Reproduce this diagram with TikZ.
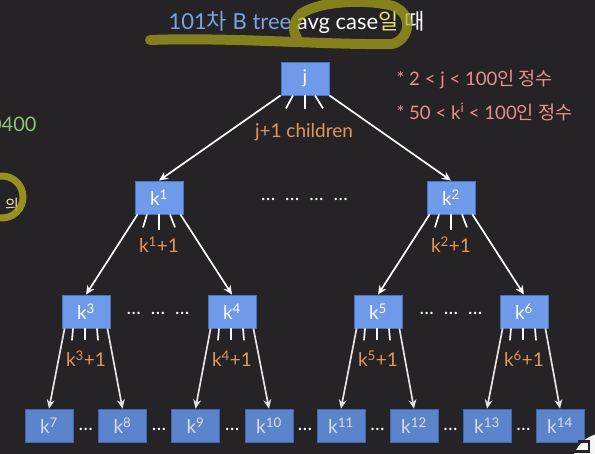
\documentclass[tikz,border=0pt]{standalone}
\usepackage{fontspec}
\setmainfont{Lato}
\newfontfamily\kr{Noto Sans CJK KR}
\usetikzlibrary{arrows.meta}

\definecolor{bg}{HTML}{262326}
\definecolor{boxfill}{HTML}{6F9AEA}
\definecolor{boxline}{HTML}{4A72C0}
\definecolor{leaffill}{HTML}{5C84CC}
\definecolor{leafline}{HTML}{4066AA}
\definecolor{leaftext}{HTML}{D9DCE3}
\definecolor{leafarrow}{HTML}{E2E2E2}
\definecolor{countcol}{HTML}{E4965A}
\definecolor{notecol}{HTML}{EB8E8E}
\definecolor{titleblue}{HTML}{7CA2E6}
\definecolor{marker}{HTML}{AAA51B}
\definecolor{numgreen}{HTML}{8CC47A}
\definecolor{hiyellow}{HTML}{E6E070}

\newcommand{\gap}{\hspace{10pt}}

\begin{document}
\begin{tikzpicture}[x=1pt,y=-1pt,
  keybox/.style={draw=boxline, fill=boxfill, line width=0.8pt,
    minimum width=48pt, minimum height=33pt, inner sep=0pt,
    text=white, font=\fontsize{19}{19}\selectfont},
  leafbox/.style={keybox, draw=leafline, fill=leaffill, text=leaftext},
  link/.style={draw=white, line width=1.7pt, -{Stealth[length=9pt,width=8pt]}},
  leaflink/.style={link, draw=leafarrow},
  stub/.style={draw=white, line width=1.7pt},
  count/.style={text=countcol, font=\fontsize{19}{19}\selectfont},
  dots/.style={text=white, anchor=base, font=\fontsize{19}{19}\selectfont},
  note/.style={text=notecol, anchor=west, font=\fontsize{18.6}{18.6}\selectfont},
]
% background and frame
\fill[bg] (0,0) rectangle (595,454);
\clip (0,0) rectangle (595,454);

% heading
\node[anchor=west, font=\fontsize{22}{22}\selectfont] (title) at (165,22)
  {{\color{titleblue}101{\kr 차} B tree} {\color{white}avg case}{\kr\color{hiyellow}일} {\kr\color{white}때}};
\draw[marker, opacity=0.72, line width=10pt, line cap=round, line join=round]
  (150,40) .. controls (230,37) and (322,45) .. (392,44)
  .. controls (410,40) and (414,14) .. (393,6)
  .. controls (364,-2) and (316,2) .. (301,14)
  .. controls (293,22) and (292,30) .. (297,38);

% fragments along the left edge
\node[anchor=east, text=numgreen, font=\fontsize{20}{20}\selectfont] (num) at (40,124) {0400};
\node[text=hiyellow!60!white, font=\kr\fontsize{15}{15}\selectfont] (eui) at (12,205) {의};
\draw[marker, opacity=0.85, line width=7pt] (2,197) circle (21);

% constraints
\node[note] (n1) at (393,80) {* 2 < j < 100{\kr 인 정수}};
\node[note] (n2) at (393,112) {* 50 < k\textsuperscript{i} < 100{\kr 인 정수}};

% keys
\node[keybox] (j)  at (305,78.5)  {j};
\node[keybox] (k1) at (159,197.5) {k\textsuperscript{1}};
\node[keybox] (k2) at (451,197.5) {k\textsuperscript{2}};
\node[keybox] (k3) at (86,311.5)  {k\textsuperscript{3}};
\node[keybox] (k4) at (232,311.5) {k\textsuperscript{4}};
\node[keybox] (k5) at (378,311.5) {k\textsuperscript{5}};
\node[keybox] (k6) at (524,311.5) {k\textsuperscript{6}};
\node[leafbox] (k7)  at (49,425.5)  {k\textsuperscript{7}};
\node[leafbox] (k8)  at (122.5,425.5) {k\textsuperscript{8}};
\node[leafbox] (k9)  at (195.5,425.5) {k\textsuperscript{9}};
\node[leafbox] (k10) at (269,425.5) {k\textsuperscript{10}};
\node[leafbox] (k11) at (341,425.5) {k\textsuperscript{11}};
\node[leafbox] (k12) at (414,425.5) {k\textsuperscript{12}};
\node[leafbox] (k13) at (487,425.5) {k\textsuperscript{13}};
\node[leafbox] (k14) at (560,425.5) {k\textsuperscript{14}};

% root fan-out
\draw[link] (j.south west) -- (k1.north);
\draw[link] (j.south east) -- (k2.north);
\draw[stub] ([xshift=-12pt]j.south) -- ++(-7,13);
\draw[stub] (j.south) -- ++(0,14);
\draw[stub] ([xshift=10pt]j.south) -- ++(8,13);
\node[count] (cj) at (304,132) {j+1 children};

% second level fan-out
\foreach \p/\l/\r in {k1/k3/k4, k2/k5/k6}{
  \draw[link] ([xshift=3pt]\p.south west) -- (\l.north);
  \draw[link] ([xshift=-3pt]\p.south east) -- (\r.north);
  \draw[stub] ([xshift=-12pt]\p.south) -- ++(-4,13);
  \draw[stub] (\p.south) -- ++(0,16);
  \draw[stub] ([xshift=11pt]\p.south) -- ++(5,13);
}
\node[count] (c1) at (159,245) {k\textsuperscript{1}+1};
\node[count] (c2) at (451,245) {k\textsuperscript{2}+1};

% third level fan-out
\foreach \p/\l/\r in {k3/k7/k8, k4/k9/k10, k5/k11/k12, k6/k13/k14}{
  \draw[leaflink] ([xshift=3pt]\p.south west) -- (\l.north);
  \draw[leaflink] ([xshift=-3pt]\p.south east) -- (\r.north);
  \draw[stub] ([xshift=-13pt]\p.south) -- ++(-1,12);
  \draw[stub] ([xshift=-1pt]\p.south) -- ++(0,12);
  \draw[stub] ([xshift=11pt]\p.south) -- ++(1,12);
}
\node[count] (c3) at (86,359)  {k\textsuperscript{3}+1};
\node[count] (c4) at (232,359) {k\textsuperscript{4}+1};
\node[count] (c5) at (378,359) {k\textsuperscript{5}+1};
\node[count] (c6) at (524,359) {k\textsuperscript{6}+1};

% omitted siblings
\node[dots] (d1) at (304.5,201) {…\gap…\gap…\gap…};
\node[dots] (d2) at (158,315) {…\gap…\gap…};
\node[dots] (d3) at (451,315) {…\gap…\gap…};
\foreach \a/\b in {k7/k8, k8/k9, k9/k10, k10/k11, k11/k12, k12/k13, k13/k14}{
  \path (\a.east) -- node[dots, anchor=center, yshift=-4pt] {…} (\b.west);
}

% badge at the corner
\fill[white!92!gray] (605,466) circle (33);
\draw[bg, line width=2.6pt] (578,441.5) -- (589,441.5) -- (589,451.5) -- (575,451.5);
\end{tikzpicture}
\end{document}
